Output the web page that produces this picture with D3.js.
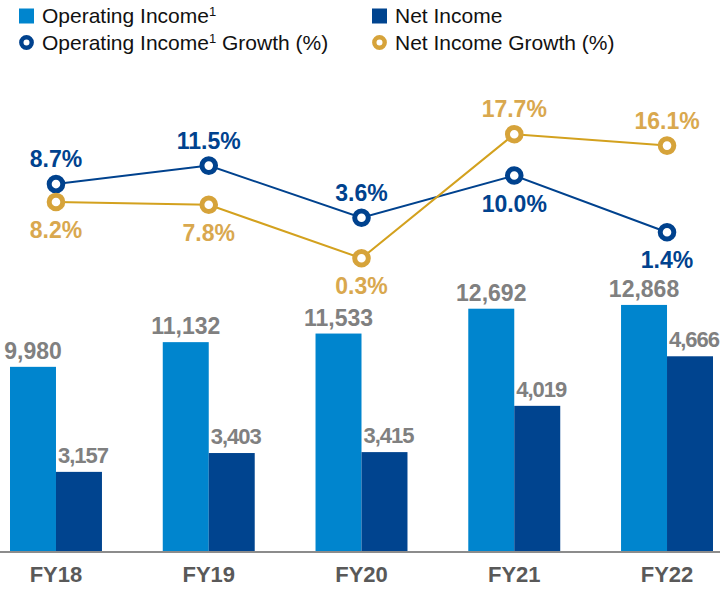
<!DOCTYPE html>
<html>
<head>
<meta charset="utf-8">
<script src="https://cdn.jsdelivr.net/npm/d3@7"></script>
<style>
  html, body { margin: 0; padding: 0; background: #fff; }
  svg { display: block; font-family: "Liberation Sans", Arial, sans-serif; }
</style>
</head>
<body>
<svg id="chart" width="720" height="589"></svg>
<script>
// ---- data ----
const categories = ["FY18", "FY19", "FY20", "FY21", "FY22"];
const operatingIncome = [9980, 11132, 11533, 12692, 12868];
const netIncome = [3157, 3403, 3415, 4019, 4666];
const operatingGrowth = [8.7, 11.5, 3.6, 10.0, 1.4];
const netGrowth = [8.2, 7.8, 0.3, 17.7, 16.1];
// label side for growth labels: "above" or "below" the marker
const operatingLabelSide = ["above", "above", "above", "below", "below"];
const netLabelSide = ["below", "below", "below", "above", "above"];
const legendItems = [
  { key: "op", text: "Operating Income", sup: "1", after: "", type: "square" },
  { key: "ni", text: "Net Income", sup: "", after: "", type: "square" },
  { key: "opg", text: "Operating Income", sup: "1", after: " Growth (%)", type: "circle" },
  { key: "nig", text: "Net Income Growth (%)", sup: "", after: "", type: "circle" }
];

// ---- styles ----
const C = {
  op: "#0085CE",
  ni: "#00448F",
  opg: "#00428E",
  nigLine: "#D3A11E",
  nigDot: "#D6A33A",
  nigText: "#D9A84E",
  value: "#808080",
  axisText: "#595959",
  axis: "#8C8C8C"
};

const svg = d3.select("#chart");
const W = 720, baseY = 551;

const x = d3.scaleBand().domain(categories).range([10, 713]).paddingInner(0.398).paddingOuter(0);
const bw = x.bandwidth() / 2;

// the source chart is not drawn to a zero baseline; each series has its own scale
const yOp = d3.scaleLinear().domain([1389, 13000]).range([baseY, 302.1]);
const yNi = d3.scaleLinear().domain([2124, 5000]).range([baseY, 330.7]);
const yOpg = d3.scaleLinear().domain([0, 20]).range([241.5, 109.5]);
const yNig = d3.scaleLinear().domain([0, 20]).range([260.4, 117.8]);

const fmt = d3.format(",");

// ---- bars ----
svg.append("g").selectAll("rect").data(categories).join("rect")
  .attr("x", d => x(d)).attr("width", bw)
  .attr("y", (d, i) => yOp(operatingIncome[i]))
  .attr("height", (d, i) => baseY - yOp(operatingIncome[i]))
  .attr("fill", C.op);

svg.append("g").selectAll("rect").data(categories).join("rect")
  .attr("x", d => x(d) + bw).attr("width", bw)
  .attr("y", (d, i) => yNi(netIncome[i]))
  .attr("height", (d, i) => baseY - yNi(netIncome[i]))
  .attr("fill", C.ni);

// value labels
svg.append("g").selectAll("text").data(categories).join("text")
  .attr("x", d => x(d) + bw / 2)
  .attr("y", (d, i) => yOp(operatingIncome[i]) - 8)
  .attr("text-anchor", "middle")
  .attr("font-size", 23).attr("font-weight", "bold").attr("fill", C.value)
  .text((d, i) => fmt(operatingIncome[i]));

svg.append("g").selectAll("text").data(categories).join("text")
  .attr("x", d => x(d) + bw + 2)
  .attr("y", (d, i) => yNi(netIncome[i]) - 9)
  .attr("text-anchor", "start")
  .attr("font-size", 22).attr("font-weight", "bold").attr("fill", C.value)
  .attr("letter-spacing", "-1px")
  .text((d, i) => fmt(netIncome[i]));

// ---- axis ----
svg.append("line").attr("x1", 0).attr("x2", W).attr("y1", baseY + 1).attr("y2", baseY + 1)
  .attr("stroke", C.axis).attr("stroke-width", 2);

const xAxis = svg.append("g").attr("transform", `translate(0,${baseY})`)
  .call(d3.axisBottom(x).tickSize(0).tickPadding(15));
xAxis.select(".domain").remove();
xAxis.selectAll("text")
  .attr("font-size", 22).attr("font-weight", "bold").attr("fill", C.axisText)
  .attr("font-family", "Liberation Sans, Arial, sans-serif");

// ---- lines ----
const cx = d => x(d) + x.bandwidth() / 2;

function drawSeries(vals, yS, lineColor, dotColor, textColor, sides) {
  const line = d3.line().x((v, i) => cx(categories[i])).y(v => yS(v));
  svg.append("path").datum(vals).attr("d", line)
    .attr("fill", "none").attr("stroke", lineColor).attr("stroke-width", 2);
  svg.append("g").selectAll("circle").data(vals).join("circle")
    .attr("cx", (v, i) => cx(categories[i])).attr("cy", v => yS(v))
    .attr("r", 6.8).attr("fill", "#fff").attr("stroke", dotColor).attr("stroke-width", 5);
  svg.append("g").selectAll("text").data(vals).join("text")
    .attr("x", (v, i) => cx(categories[i]))
    .attr("y", (v, i) => sides[i] === "above" ? yS(v) - 17 : yS(v) + 36)
    .attr("text-anchor", "middle")
    .attr("font-size", 23).attr("font-weight", "bold").attr("fill", textColor)
    .text(v => v.toFixed(1) + "%");
}
drawSeries(operatingGrowth, yOpg, C.opg, C.opg, C.opg, operatingLabelSide);
drawSeries(netGrowth, yNig, C.nigLine, C.nigDot, C.nigText, netLabelSide);

// ---- legend ----
const legPos = [
  { x: 19, y: 23 }, { x: 372, y: 23 }, { x: 19, y: 49.5 }, { x: 372, y: 49.5 }
];
const legColor = { op: C.op, ni: C.ni, opg: C.opg, nig: C.nigDot };
const leg = svg.append("g").selectAll("g").data(legendItems).join("g")
  .attr("transform", (d, i) => `translate(${legPos[i].x},${legPos[i].y})`);
leg.each(function (d) {
  const g = d3.select(this);
  if (d.type === "square") {
    g.append("rect").attr("x", 0).attr("y", -14.5).attr("width", 15).attr("height", 15)
      .attr("fill", legColor[d.key]);
  } else {
    g.append("circle").attr("cx", 7.5).attr("cy", -7).attr("r", 5.2)
      .attr("fill", "#fff").attr("stroke", legColor[d.key]).attr("stroke-width", 4.4);
  }
  const t = g.append("text").attr("x", 23).attr("y", 0)
    .attr("font-size", 21).attr("fill", "#111");
  t.append("tspan").text(d.text);
  if (d.sup) {
    t.append("tspan").attr("font-size", 13).attr("dy", -7).text(d.sup);
    if (d.after) t.append("tspan").attr("dy", 7).text(d.after);
  }
});
</script>
</body>
</html>
